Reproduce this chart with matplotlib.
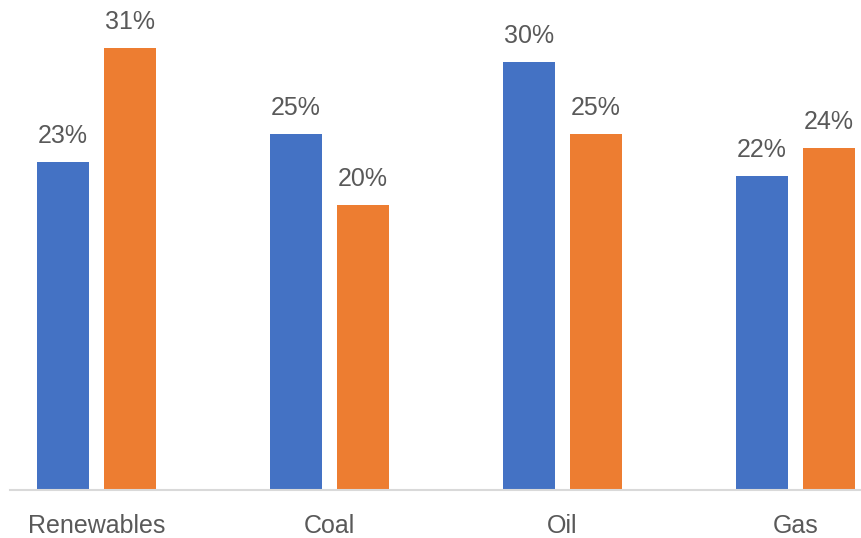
import numpy as np
import matplotlib
matplotlib.use("Agg")
import matplotlib.pyplot as plt

categories = ["Renewables", "Coal", "Oil", "Gas"]
series_a = [23, 25, 30, 22]
series_b = [31, 20, 25, 24]

blue = "#4472C4"
orange = "#ED7D31"
grey_text = "#595959"

plt.rcParams["font.family"] = ["Liberation Sans", "DejaVu Sans"]

fig = plt.figure(figsize=(8.62, 5.38), dpi=100)
ax = fig.add_axes([10 / 862, 48 / 538, 852 / 862, 490 / 538])

x = np.arange(len(categories))
w = 0.223
off = 0.1438

bars_a = ax.bar(x - off, series_a, w, color=blue)
bars_b = ax.bar(x + off, series_b, w, color=orange)

for bars, vals in ((bars_a, series_a), (bars_b, series_b)):
    for b, v in zip(bars, vals):
        ax.annotate(f"{v}%", (b.get_x() + b.get_width() / 2, v),
                    xytext=(0, 10), textcoords="offset points",
                    ha="center", va="bottom", fontsize=18, color=grey_text)

ax.set_xlim(-0.371, -0.371 + 852 / 233)
ax.set_ylim(0, 34.37)

ax.set_xticks(x)
ax.set_xticklabels(categories, fontsize=18, color=grey_text)
ax.tick_params(axis="x", length=0, pad=17)
ax.set_yticks([])

for side in ("top", "right", "left"):
    ax.spines[side].set_visible(False)
ax.spines["bottom"].set_color("#D9D9D9")
ax.spines["bottom"].set_linewidth(1.5)

fig.savefig("out.png", dpi=100)
